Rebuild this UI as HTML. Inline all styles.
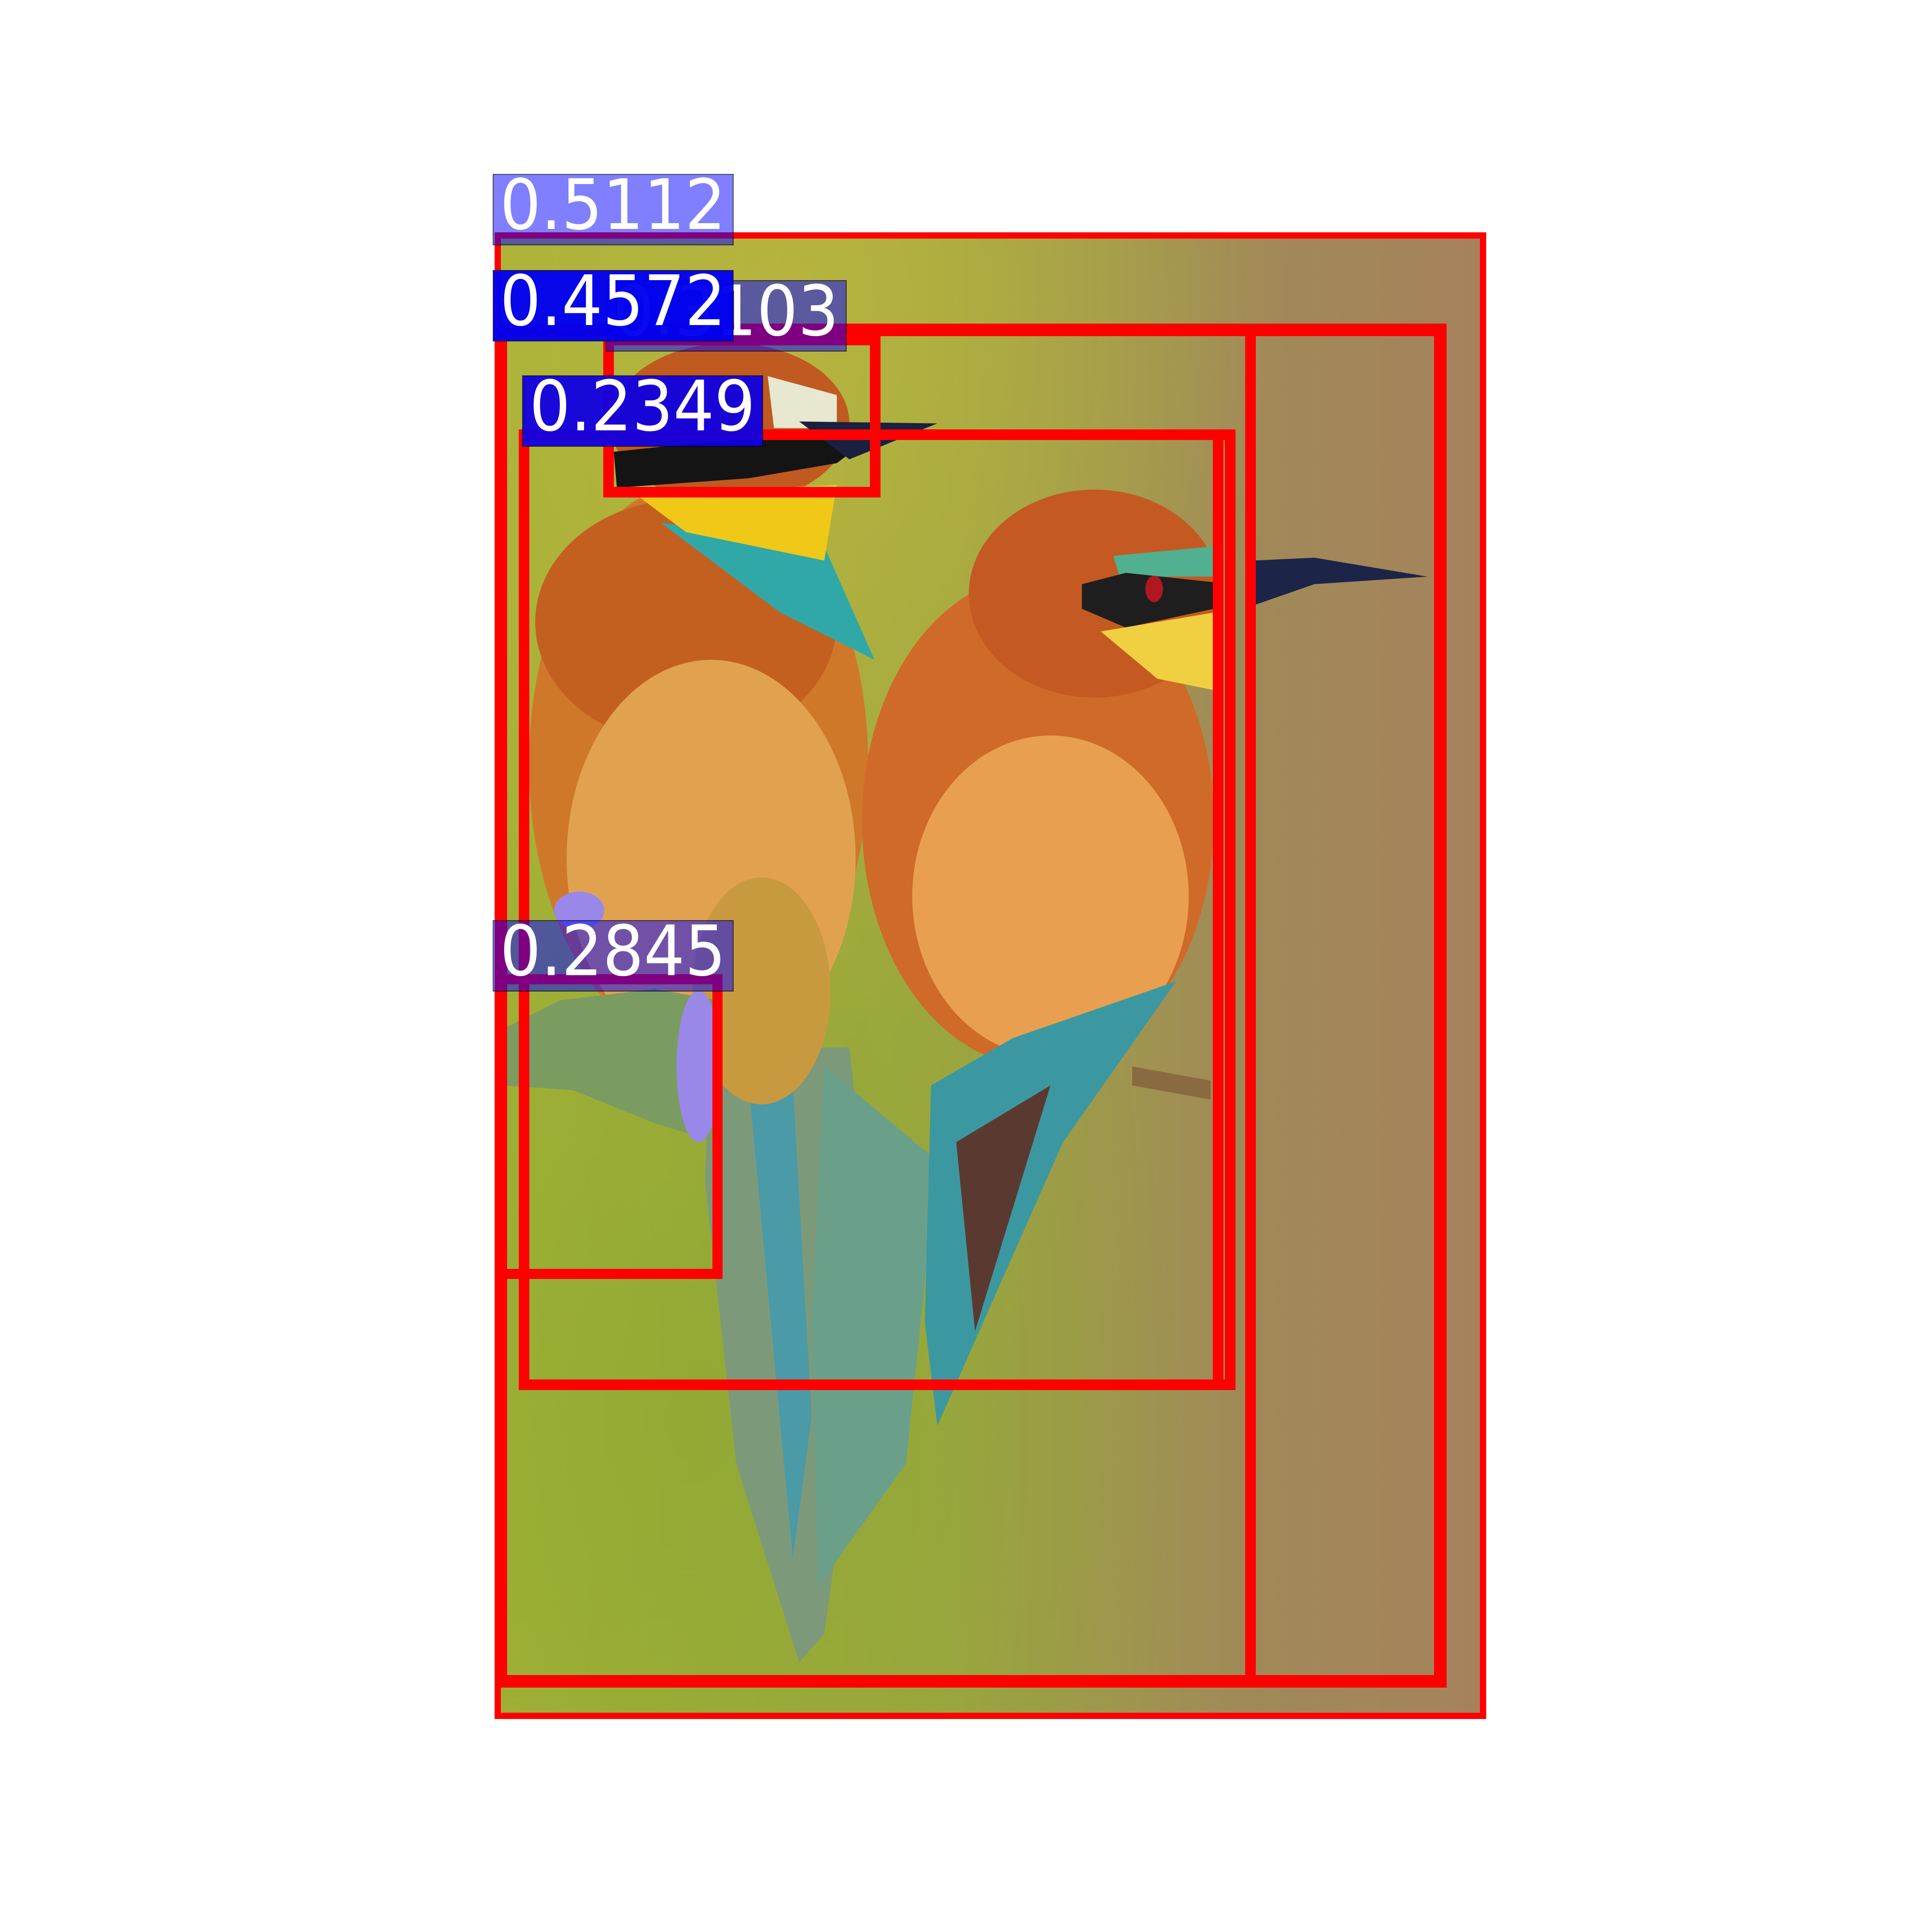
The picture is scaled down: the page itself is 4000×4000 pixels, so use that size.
<!DOCTYPE html>
<html><head><meta charset="utf-8"><title>Detections</title>
<style>html,body{margin:0;padding:0;background:#fff}svg{display:block}</style></head>
<body>
<svg id="chart" xmlns="http://www.w3.org/2000/svg" width="4000" height="4000" viewBox="0 0 4000 4000">
<defs>
<linearGradient id="bg" x1="0" y1="0" x2="1" y2="0">
<stop offset="0" stop-color="#a6b236"/><stop offset="0.45" stop-color="#9ea640"/><stop offset="0.75" stop-color="#a08a58"/><stop offset="1" stop-color="#a6825c"/></linearGradient>
<radialGradient id="glowTop" cx="0.3" cy="0.05" r="0.5"><stop offset="0" stop-color="#c0b840" stop-opacity="0.7"/><stop offset="1" stop-color="#c0b840" stop-opacity="0"/></radialGradient>
<radialGradient id="glowBot" cx="0.2" cy="0.8" r="0.5"><stop offset="0" stop-color="#86a830" stop-opacity="0.6"/><stop offset="1" stop-color="#86a830" stop-opacity="0"/></radialGradient>
</defs>
<rect x="1030" y="485" width="2040" height="3070" fill="url(#bg)"/>
<rect x="1030" y="485" width="2040" height="3070" fill="url(#glowTop)"/>
<rect x="1030" y="485" width="2040" height="3070" fill="url(#glowBot)"/>
<g transform="translate(1030,485) scale(1.301,1.958)">
 <g>
  <polygon points="340,860 560,860 600,1100 520,1480 480,1510 380,1300 330,1000" fill="#7c9a7a"/>
  <polygon points="400,900 470,900 500,1250 470,1400" fill="#4a9aa8"/>
  <ellipse cx="320" cy="560" rx="270" ry="300" fill="#d0782a"/>
  <ellipse cx="300" cy="410" rx="240" ry="130" fill="#c4601f"/>
  <ellipse cx="340" cy="660" rx="230" ry="210" fill="#e0a24e"/>
  <ellipse cx="420" cy="800" rx="110" ry="120" fill="#c89a40"/>
  <polygon points="260,305 520,330 600,450 450,400" fill="#30a8a8"/>
  <ellipse cx="370" cy="200" rx="190" ry="85" fill="#c05a20"/>
  <polygon points="430,150 540,170 540,205 440,205" fill="#e8e8d0"/>
  <polygon points="220,275 540,265 520,345 300,315" fill="#f0c818"/>
  <polygon points="185,230 300,222 480,212 600,212 540,242 400,258 190,268" fill="#141414"/>
  <polygon points="480,198 700,200 560,238" fill="#1a2040"/>
 </g>
 <g>
  <polygon points="520,880 700,980 650,1300 510,1430 500,1150" fill="#6aa08a"/>
  <ellipse cx="860" cy="620" rx="280" ry="260" fill="#d06a28"/>
  <ellipse cx="880" cy="700" rx="220" ry="170" fill="#e8a050"/>
  <polygon points="690,900 820,850 1080,790 900,960 700,1260 680,1150" fill="#3c98a0"/>
  <polygon points="730,960 880,900 760,1160" fill="#5a3a30"/>
  <ellipse cx="950" cy="380" rx="200" ry="110" fill="#c45a22"/>
  <polygon points="980,340 1140,330 1140,362 990,362" fill="#50b090"/>
  <polygon points="930,370 1000,358 1140,368 1140,396 1000,416 930,396" fill="#1e1e1e"/>
  <circle cx="1045" cy="375" r="14" fill="#b01820"/>
  <polygon points="960,420 1140,400 1140,482 1050,470" fill="#f0d040"/>
  <polygon points="1205,345 1300,342 1480,362 1300,370 1205,392" fill="#1c2448"/>
  <polygon points="1010,880 1135,895 1135,915 1010,900" fill="#8a6a40"/>
 </g>
 <g>
  <polygon points="10,840 100,810 250,798 350,810 350,960 250,940 120,905 10,900" fill="#7a9c60"/>
  <ellipse cx="320" cy="880" rx="35" ry="80" fill="#9a88e8"/>
  <ellipse cx="130" cy="715" rx="40" ry="20" fill="#9a88e8"/>
 </g>
</g>
<g id="boxes"></g>
<g id="labels"></g>
</svg>
<script>
const boxNames = ['box-0-5112','box-0-4572','box-b2','box-0-3103','box-0-2349','box-c2','box-0-2845'];
const boxX0 = [1024,1024,1024,1249,1074,1074,1024];
const boxY0 = [481,670,672,693,889,889,2017];
const boxX1 = [3077,2995,2600,1823,2533,2558,1496];
const boxY1 = [3559,3494,3490,1030,2878,2878,2648];
const boxW = [13,26,22,22,22,22,21];
const labelText = ['0.5112','0.3103','0.4572','0.2349','0.2845'];
const labelX = [1021,1255,1021,1082,1021];
const labelY = [361,581,560,778,1906];
const labelFill = ['rgba(0,0,255,0.5)','rgba(0,0,255,0.5)','rgba(0,0,240,0.96)','rgba(16,0,224,0.95)','rgba(0,0,255,0.5)'];
const NS='http://www.w3.org/2000/svg';
const gb=document.getElementById('boxes');
for(let i=0;i<boxNames.length;i++){
  const r=document.createElementNS(NS,'rect');
  const w=boxW[i];
  r.setAttribute('x',boxX0[i]+w/2);r.setAttribute('y',boxY0[i]+w/2);
  r.setAttribute('width',boxX1[i]-boxX0[i]-w);r.setAttribute('height',boxY1[i]-boxY0[i]-w);
  r.setAttribute('fill','none');r.setAttribute('stroke','#ff0000');r.setAttribute('stroke-width',w);
  
  
  gb.appendChild(r);
}
const gl=document.getElementById('labels');
for(let i=0;i<labelText.length;i++){
  const g=document.createElementNS(NS,'g');
  
  
  const r=document.createElementNS(NS,'rect');
  r.setAttribute('x',labelX[i]);r.setAttribute('y',labelY[i]);r.setAttribute('width',497);r.setAttribute('height',146);
  r.setAttribute('fill',labelFill[i]);r.setAttribute('stroke','rgba(0,0,0,0.6)');r.setAttribute('stroke-width',2);
  const t=document.createElementNS(NS,'text');
  t.setAttribute('x',labelX[i]+14);t.setAttribute('y',labelY[i]+113);
  t.setAttribute('font-family','DejaVu Sans, Liberation Sans, sans-serif');t.setAttribute('font-size','144');
  t.setAttribute('fill','#ffffff');t.setAttribute('textLength','468');t.setAttribute('lengthAdjust','spacingAndGlyphs');
  t.textContent=labelText[i];
  g.appendChild(r);g.appendChild(t);gl.appendChild(g);
}
</script>
</body></html>
